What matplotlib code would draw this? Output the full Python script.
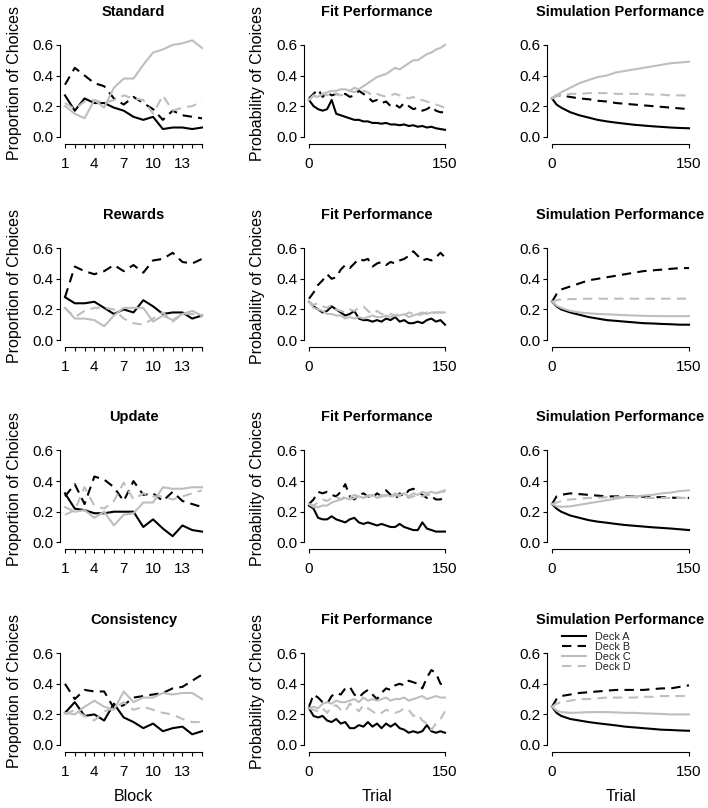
import matplotlib
matplotlib.use("Agg")
import matplotlib.pyplot as plt

plt.rcParams["font.family"] = ["Liberation Sans", "DejaVu Sans"]

# -----------------------------
# data: block proportions (blocks 1..15)
# -----------------------------
blocks = list(range(1, 16))
block_ticks = [1, 4, 7, 10, 13]

standard_block_A = [0.27, 0.17, 0.25, 0.22, 0.22, 0.19, 0.17, 0.13, 0.11, 0.13, 0.05, 0.06, 0.06, 0.05, 0.06]
standard_block_B = [0.34, 0.45, 0.40, 0.35, 0.33, 0.25, 0.21, 0.26, 0.22, 0.18, 0.11, 0.17, 0.14, 0.13, 0.12]
standard_block_C = [0.20, 0.15, 0.12, 0.24, 0.19, 0.32, 0.38, 0.38, 0.47, 0.55, 0.57, 0.60, 0.61, 0.63, 0.58]
standard_block_D = [0.22, 0.18, 0.23, 0.24, 0.22, 0.24, 0.27, 0.25, 0.24, 0.15, 0.27, 0.17, 0.19, 0.20, 0.23]

rewards_block_A = [0.28, 0.24, 0.24, 0.25, 0.21, 0.17, 0.20, 0.18, 0.26, 0.22, 0.17, 0.18, 0.18, 0.14, 0.16]
rewards_block_B = [0.28, 0.48, 0.45, 0.43, 0.45, 0.49, 0.45, 0.49, 0.44, 0.52, 0.53, 0.57, 0.51, 0.50, 0.53]
rewards_block_C = [0.21, 0.14, 0.14, 0.13, 0.09, 0.16, 0.21, 0.21, 0.21, 0.12, 0.16, 0.13, 0.17, 0.19, 0.16]
rewards_block_D = [0.21, 0.15, 0.19, 0.21, 0.21, 0.20, 0.14, 0.11, 0.10, 0.14, 0.18, 0.12, 0.17, 0.17, 0.15]

update_block_A = [0.32, 0.22, 0.21, 0.19, 0.19, 0.20, 0.20, 0.20, 0.10, 0.15, 0.09, 0.04, 0.11, 0.08, 0.07]
update_block_B = [0.30, 0.38, 0.25, 0.43, 0.41, 0.36, 0.27, 0.40, 0.31, 0.32, 0.27, 0.33, 0.27, 0.25, 0.23]
update_block_C = [0.23, 0.20, 0.21, 0.16, 0.20, 0.11, 0.18, 0.19, 0.26, 0.26, 0.36, 0.35, 0.35, 0.36, 0.36]
update_block_D = [0.18, 0.21, 0.36, 0.24, 0.22, 0.27, 0.39, 0.28, 0.32, 0.30, 0.30, 0.28, 0.30, 0.32, 0.34]

consistency_block_A = [0.21, 0.28, 0.19, 0.20, 0.16, 0.27, 0.18, 0.15, 0.11, 0.14, 0.09, 0.11, 0.12, 0.07, 0.09]
consistency_block_B = [0.40, 0.30, 0.36, 0.35, 0.35, 0.24, 0.26, 0.31, 0.32, 0.33, 0.34, 0.37, 0.38, 0.42, 0.46]
consistency_block_C = [0.21, 0.20, 0.25, 0.29, 0.25, 0.23, 0.35, 0.28, 0.31, 0.31, 0.34, 0.33, 0.34, 0.34, 0.30]
consistency_block_D = [0.20, 0.23, 0.19, 0.16, 0.22, 0.24, 0.28, 0.23, 0.25, 0.23, 0.21, 0.20, 0.17, 0.15, 0.15]

# -----------------------------
# data: fit performance (every 5th trial)
# -----------------------------
trials_fit = list(range(0, 151, 5))

standard_fit_A = [0.24, 0.20, 0.18, 0.17, 0.18, 0.24, 0.15, 0.14, 0.13, 0.12, 0.11, 0.11, 0.10, 0.10, 0.09, 0.09,
                  0.085, 0.09, 0.08, 0.08, 0.075, 0.08, 0.07, 0.075, 0.065, 0.07, 0.06, 0.065, 0.055, 0.05, 0.045]
standard_fit_B = [0.25, 0.28, 0.31, 0.26, 0.29, 0.27, 0.28, 0.27, 0.28, 0.26, 0.27, 0.30, 0.28, 0.26, 0.23, 0.24,
                  0.22, 0.23, 0.20, 0.21, 0.19, 0.22, 0.20, 0.18, 0.19, 0.17, 0.18, 0.20, 0.17, 0.16, 0.16]
standard_fit_C = [0.24, 0.27, 0.26, 0.28, 0.29, 0.30, 0.30, 0.31, 0.31, 0.30, 0.32, 0.31, 0.33, 0.35, 0.37, 0.39,
                  0.40, 0.41, 0.43, 0.45, 0.44, 0.46, 0.48, 0.50, 0.50, 0.52, 0.54, 0.55, 0.57, 0.58, 0.60]
standard_fit_D = [0.24, 0.27, 0.25, 0.28, 0.27, 0.29, 0.28, 0.27, 0.28, 0.30, 0.29, 0.31, 0.30, 0.29, 0.27, 0.28,
                  0.27, 0.26, 0.27, 0.28, 0.27, 0.26, 0.25, 0.26, 0.24, 0.24, 0.23, 0.22, 0.21, 0.20, 0.19]

rewards_fit_A = [0.25, 0.22, 0.20, 0.18, 0.19, 0.22, 0.20, 0.18, 0.16, 0.17, 0.19, 0.14, 0.13, 0.13, 0.12, 0.13,
                 0.12, 0.14, 0.13, 0.15, 0.12, 0.13, 0.11, 0.11, 0.12, 0.11, 0.13, 0.14, 0.12, 0.13, 0.10]
rewards_fit_B = [0.27, 0.31, 0.36, 0.39, 0.43, 0.40, 0.41, 0.46, 0.49, 0.47, 0.50, 0.53, 0.52, 0.53, 0.48, 0.50,
                 0.51, 0.49, 0.51, 0.50, 0.52, 0.53, 0.55, 0.58, 0.55, 0.52, 0.53, 0.52, 0.54, 0.57, 0.54]
rewards_fit_C = [0.25, 0.21, 0.20, 0.19, 0.17, 0.17, 0.16, 0.16, 0.14, 0.15, 0.14, 0.15, 0.14, 0.15, 0.16, 0.15,
                 0.15, 0.16, 0.15, 0.16, 0.16, 0.17, 0.15, 0.16, 0.17, 0.18, 0.17, 0.18, 0.18, 0.18, 0.18]
rewards_fit_D = [0.25, 0.23, 0.24, 0.22, 0.21, 0.23, 0.20, 0.19, 0.18, 0.20, 0.19, 0.21, 0.22, 0.19, 0.17, 0.19,
                 0.17, 0.16, 0.17, 0.16, 0.17, 0.16, 0.18, 0.17, 0.16, 0.17, 0.18, 0.17, 0.18, 0.18, 0.18]

update_fit_A = [0.24, 0.22, 0.16, 0.15, 0.15, 0.17, 0.15, 0.14, 0.13, 0.15, 0.16, 0.13, 0.12, 0.13, 0.12, 0.11,
                0.12, 0.11, 0.10, 0.10, 0.12, 0.10, 0.09, 0.08, 0.08, 0.13, 0.09, 0.08, 0.07, 0.07, 0.07]
update_fit_B = [0.25, 0.28, 0.33, 0.32, 0.33, 0.31, 0.30, 0.33, 0.38, 0.30, 0.28, 0.31, 0.32, 0.30, 0.29, 0.32,
                0.30, 0.34, 0.31, 0.28, 0.32, 0.30, 0.34, 0.35, 0.33, 0.31, 0.29, 0.30, 0.28, 0.28, 0.30]
update_fit_C = [0.25, 0.23, 0.23, 0.24, 0.24, 0.26, 0.27, 0.28, 0.29, 0.28, 0.29, 0.30, 0.29, 0.30, 0.31, 0.29,
                0.30, 0.31, 0.30, 0.32, 0.31, 0.32, 0.30, 0.32, 0.31, 0.33, 0.32, 0.33, 0.32, 0.33, 0.34]
update_fit_D = [0.25, 0.24, 0.26, 0.28, 0.27, 0.29, 0.30, 0.28, 0.30, 0.29, 0.31, 0.30, 0.29, 0.31, 0.30, 0.29,
                0.31, 0.30, 0.29, 0.31, 0.30, 0.31, 0.29, 0.30, 0.31, 0.30, 0.31, 0.31, 0.32, 0.33, 0.33]

consistency_fit_A = [0.24, 0.19, 0.18, 0.19, 0.16, 0.15, 0.17, 0.14, 0.15, 0.11, 0.11, 0.13, 0.12, 0.15, 0.12, 0.14,
                     0.11, 0.14, 0.12, 0.14, 0.11, 0.10, 0.08, 0.09, 0.08, 0.09, 0.13, 0.09, 0.08, 0.09, 0.08]
consistency_fit_B = [0.25, 0.33, 0.31, 0.28, 0.27, 0.32, 0.34, 0.33, 0.37, 0.38, 0.33, 0.31, 0.34, 0.36, 0.33, 0.30,
                     0.34, 0.37, 0.36, 0.39, 0.40, 0.39, 0.42, 0.41, 0.40, 0.37, 0.44, 0.49, 0.47, 0.40, 0.39]
consistency_fit_C = [0.24, 0.25, 0.24, 0.27, 0.28, 0.27, 0.29, 0.28, 0.28, 0.29, 0.30, 0.28, 0.31, 0.29, 0.30, 0.29,
                     0.30, 0.31, 0.29, 0.30, 0.30, 0.31, 0.29, 0.30, 0.31, 0.32, 0.30, 0.31, 0.32, 0.31, 0.31]
consistency_fit_D = [0.24, 0.23, 0.22, 0.24, 0.21, 0.25, 0.26, 0.23, 0.22, 0.27, 0.25, 0.22, 0.26, 0.24, 0.22, 0.20,
                     0.21, 0.23, 0.22, 0.21, 0.22, 0.24, 0.23, 0.19, 0.20, 0.16, 0.14, 0.10, 0.14, 0.17, 0.22]

# -----------------------------
# data: simulation performance
# -----------------------------
trials_sim = [0, 5, 10, 20, 30, 40, 50, 60, 70, 80, 90, 100, 110, 120, 130, 140, 150]

standard_sim_A = [0.25, 0.21, 0.19, 0.16, 0.14, 0.125, 0.11, 0.10, 0.092, 0.085, 0.078, 0.073, 0.068, 0.064, 0.06, 0.057, 0.055]
standard_sim_B = [0.25, 0.27, 0.27, 0.26, 0.25, 0.245, 0.235, 0.23, 0.22, 0.215, 0.21, 0.205, 0.20, 0.195, 0.19, 0.185, 0.18]
standard_sim_C = [0.25, 0.27, 0.29, 0.32, 0.35, 0.37, 0.39, 0.40, 0.42, 0.43, 0.44, 0.45, 0.46, 0.47, 0.48, 0.485, 0.49]
standard_sim_D = [0.25, 0.265, 0.27, 0.28, 0.28, 0.285, 0.285, 0.285, 0.28, 0.28, 0.28, 0.28, 0.275, 0.275, 0.27, 0.27, 0.27]

rewards_sim_A = [0.25, 0.22, 0.20, 0.18, 0.165, 0.15, 0.14, 0.13, 0.125, 0.12, 0.115, 0.11, 0.108, 0.105, 0.103, 0.10, 0.10]
rewards_sim_B = [0.25, 0.30, 0.33, 0.35, 0.37, 0.39, 0.40, 0.41, 0.42, 0.43, 0.44, 0.45, 0.455, 0.46, 0.465, 0.47, 0.47]
rewards_sim_C = [0.25, 0.225, 0.21, 0.19, 0.18, 0.175, 0.17, 0.168, 0.165, 0.162, 0.16, 0.158, 0.157, 0.156, 0.156, 0.156, 0.156]
rewards_sim_D = [0.25, 0.26, 0.265, 0.267, 0.268, 0.27, 0.27, 0.27, 0.27, 0.27, 0.27, 0.27, 0.27, 0.27, 0.27, 0.27, 0.27]

update_sim_A = [0.25, 0.22, 0.20, 0.175, 0.16, 0.145, 0.135, 0.128, 0.12, 0.113, 0.108, 0.103, 0.098, 0.094, 0.09, 0.085, 0.08]
update_sim_B = [0.25, 0.30, 0.31, 0.32, 0.315, 0.31, 0.305, 0.30, 0.30, 0.30, 0.30, 0.298, 0.295, 0.295, 0.292, 0.29, 0.29]
update_sim_C = [0.25, 0.235, 0.232, 0.235, 0.245, 0.255, 0.265, 0.275, 0.285, 0.295, 0.30, 0.305, 0.31, 0.32, 0.325, 0.335, 0.34]
update_sim_D = [0.25, 0.26, 0.27, 0.28, 0.285, 0.29, 0.29, 0.295, 0.295, 0.295, 0.295, 0.29, 0.29, 0.29, 0.29, 0.29, 0.29]

consistency_sim_A = [0.25, 0.21, 0.19, 0.17, 0.16, 0.15, 0.142, 0.135, 0.128, 0.12, 0.115, 0.11, 0.105, 0.10, 0.098, 0.095, 0.093]
consistency_sim_B = [0.25, 0.30, 0.32, 0.33, 0.34, 0.345, 0.35, 0.355, 0.36, 0.36, 0.36, 0.36, 0.365, 0.37, 0.37, 0.38, 0.39]
consistency_sim_C = [0.25, 0.225, 0.215, 0.21, 0.212, 0.215, 0.215, 0.215, 0.213, 0.21, 0.21, 0.207, 0.205, 0.203, 0.20, 0.20, 0.20]
consistency_sim_D = [0.25, 0.27, 0.28, 0.29, 0.30, 0.30, 0.305, 0.31, 0.31, 0.31, 0.31, 0.315, 0.315, 0.32, 0.32, 0.32, 0.32]

row_titles = ["Standard", "Rewards", "Update", "Consistency"]
deck_labels = ["Deck A", "Deck B", "Deck C", "Deck D"]
y_ticks = [0.0, 0.2, 0.4, 0.6]

block_data = [
    [standard_block_A, standard_block_B, standard_block_C, standard_block_D],
    [rewards_block_A, rewards_block_B, rewards_block_C, rewards_block_D],
    [update_block_A, update_block_B, update_block_C, update_block_D],
    [consistency_block_A, consistency_block_B, consistency_block_C, consistency_block_D],
]
fit_data = [
    [standard_fit_A, standard_fit_B, standard_fit_C, standard_fit_D],
    [rewards_fit_A, rewards_fit_B, rewards_fit_C, rewards_fit_D],
    [update_fit_A, update_fit_B, update_fit_C, update_fit_D],
    [consistency_fit_A, consistency_fit_B, consistency_fit_C, consistency_fit_D],
]
sim_data = [
    [standard_sim_A, standard_sim_B, standard_sim_C, standard_sim_D],
    [rewards_sim_A, rewards_sim_B, rewards_sim_C, rewards_sim_D],
    [update_sim_A, update_sim_B, update_sim_C, update_sim_D],
    [consistency_sim_A, consistency_sim_B, consistency_sim_C, consistency_sim_D],
]

# -----------------------------
# layout (pixels of a 708x808 figure)
# -----------------------------
W, H = 708, 808
GRAY = "#bebebe"
DASH = (0, (4.5, 3))
styles = [("black", "-"), ("black", DASH), (GRAY, "-"), (GRAY, DASH)]

col_px = [(65, 202), (309, 445), (552, 689)]     # pixel x of first/last data tick
col_lim = [(1, 15), (0, 150), (0, 150)]
row_zero = [136.7, 340, 542.3, 745]              # pixel y of 0.0
ypx = 153.0                                      # pixels per unit on y
ylo, yhi = -0.028, 0.728

fig = plt.figure(figsize=(W / 100, H / 100), dpi=100)


def make_axes(r, c):
    p0, p1 = col_px[c]
    d0, d1 = col_lim[c]
    ext = 0.04 * (p1 - p0)
    left = p0 - ext
    right = p1 + ext
    bottom = row_zero[r] - ylo * ypx
    top = row_zero[r] - yhi * ypx
    ax = fig.add_axes([left / W, 1 - bottom / H, (right - left) / W, (bottom - top) / H])
    dx = 0.04 * (d1 - d0)
    ax.set_xlim(d0 - dx, d1 + dx)
    ax.set_ylim(ylo, yhi)
    for s in ["top", "right"]:
        ax.spines[s].set_visible(False)
    ax.spines["left"].set_bounds(0, 0.6)
    ax.spines["bottom"].set_bounds(d0, d1)
    ax.spines["bottom"].set_position(("outward", 2))
    for s in ["left", "bottom"]:
        ax.spines[s].set_linewidth(0.8)
    ax.set_yticks(y_ticks)
    ax.set_yticklabels(["0.0", "0.2", "0.4", "0.6"])
    ax.tick_params(axis="y", direction="out", length=3.2, width=0.8, pad=1, labelsize=11)
    ax.tick_params(axis="x", direction="out", length=3.2, width=0.8, pad=6, labelsize=11)
    return ax


for r in range(4):
    # block proportions
    ax = make_axes(r, 0)
    for series, (col, ls) in zip(block_data[r], styles):
        ax.plot(blocks, series, color=col, linestyle=ls, lw=1.5, clip_on=False)
    ax.set_xticks(blocks)
    ax.set_xticklabels([str(b) if b in block_ticks else "" for b in blocks])
    ax.set_title(row_titles[r], fontsize=10.5, fontweight="bold", pad=7)
    ax.set_ylabel("Proportion of Choices", fontsize=11.5)
    ax.yaxis.set_label_coords(-0.255, 0.5)
    if r == 3:
        ax.set_xlabel("Block", fontsize=11.5)
        ax.xaxis.set_label_coords(0.5, -0.34)

    # fit performance
    ax = make_axes(r, 1)
    for series, (col, ls) in zip(fit_data[r], styles):
        ax.plot(trials_fit, series, color=col, linestyle=ls, lw=1.5, clip_on=False)
    ax.set_xticks([0, 150])
    ax.set_title("Fit Performance", fontsize=10.5, fontweight="bold", pad=7)
    ax.set_ylabel("Probability of Choices", fontsize=11.5)
    ax.yaxis.set_label_coords(-0.262, 0.5)
    if r == 3:
        ax.set_xlabel("Trial", fontsize=11.5)
        ax.xaxis.set_label_coords(0.5, -0.34)

    # simulation performance
    ax = make_axes(r, 2)
    for series, (col, ls), lab in zip(sim_data[r], styles, deck_labels):
        ax.plot(trials_sim, series, color=col, linestyle=ls, lw=1.5, clip_on=False, label=lab)
    ax.set_xticks([0, 150])
    ax.set_title("Simulation Performance", fontsize=10.5, fontweight="bold", pad=7)
    if r == 3:
        ax.set_xlabel("Trial", fontsize=11.5)
        ax.xaxis.set_label_coords(0.5, -0.34)
        leg = ax.legend(loc="upper left", bbox_to_anchor=(562 / W, 1 - 632 / H),
                        bbox_transform=fig.transFigure, frameon=False, fontsize=7.8,
                        handlelength=2.2, handletextpad=0.85, labelspacing=0.0,
                        borderpad=0, borderaxespad=0)
        for t in leg.get_texts():
            t.set_color("#222222")

fig.savefig("out.png", dpi=100)
